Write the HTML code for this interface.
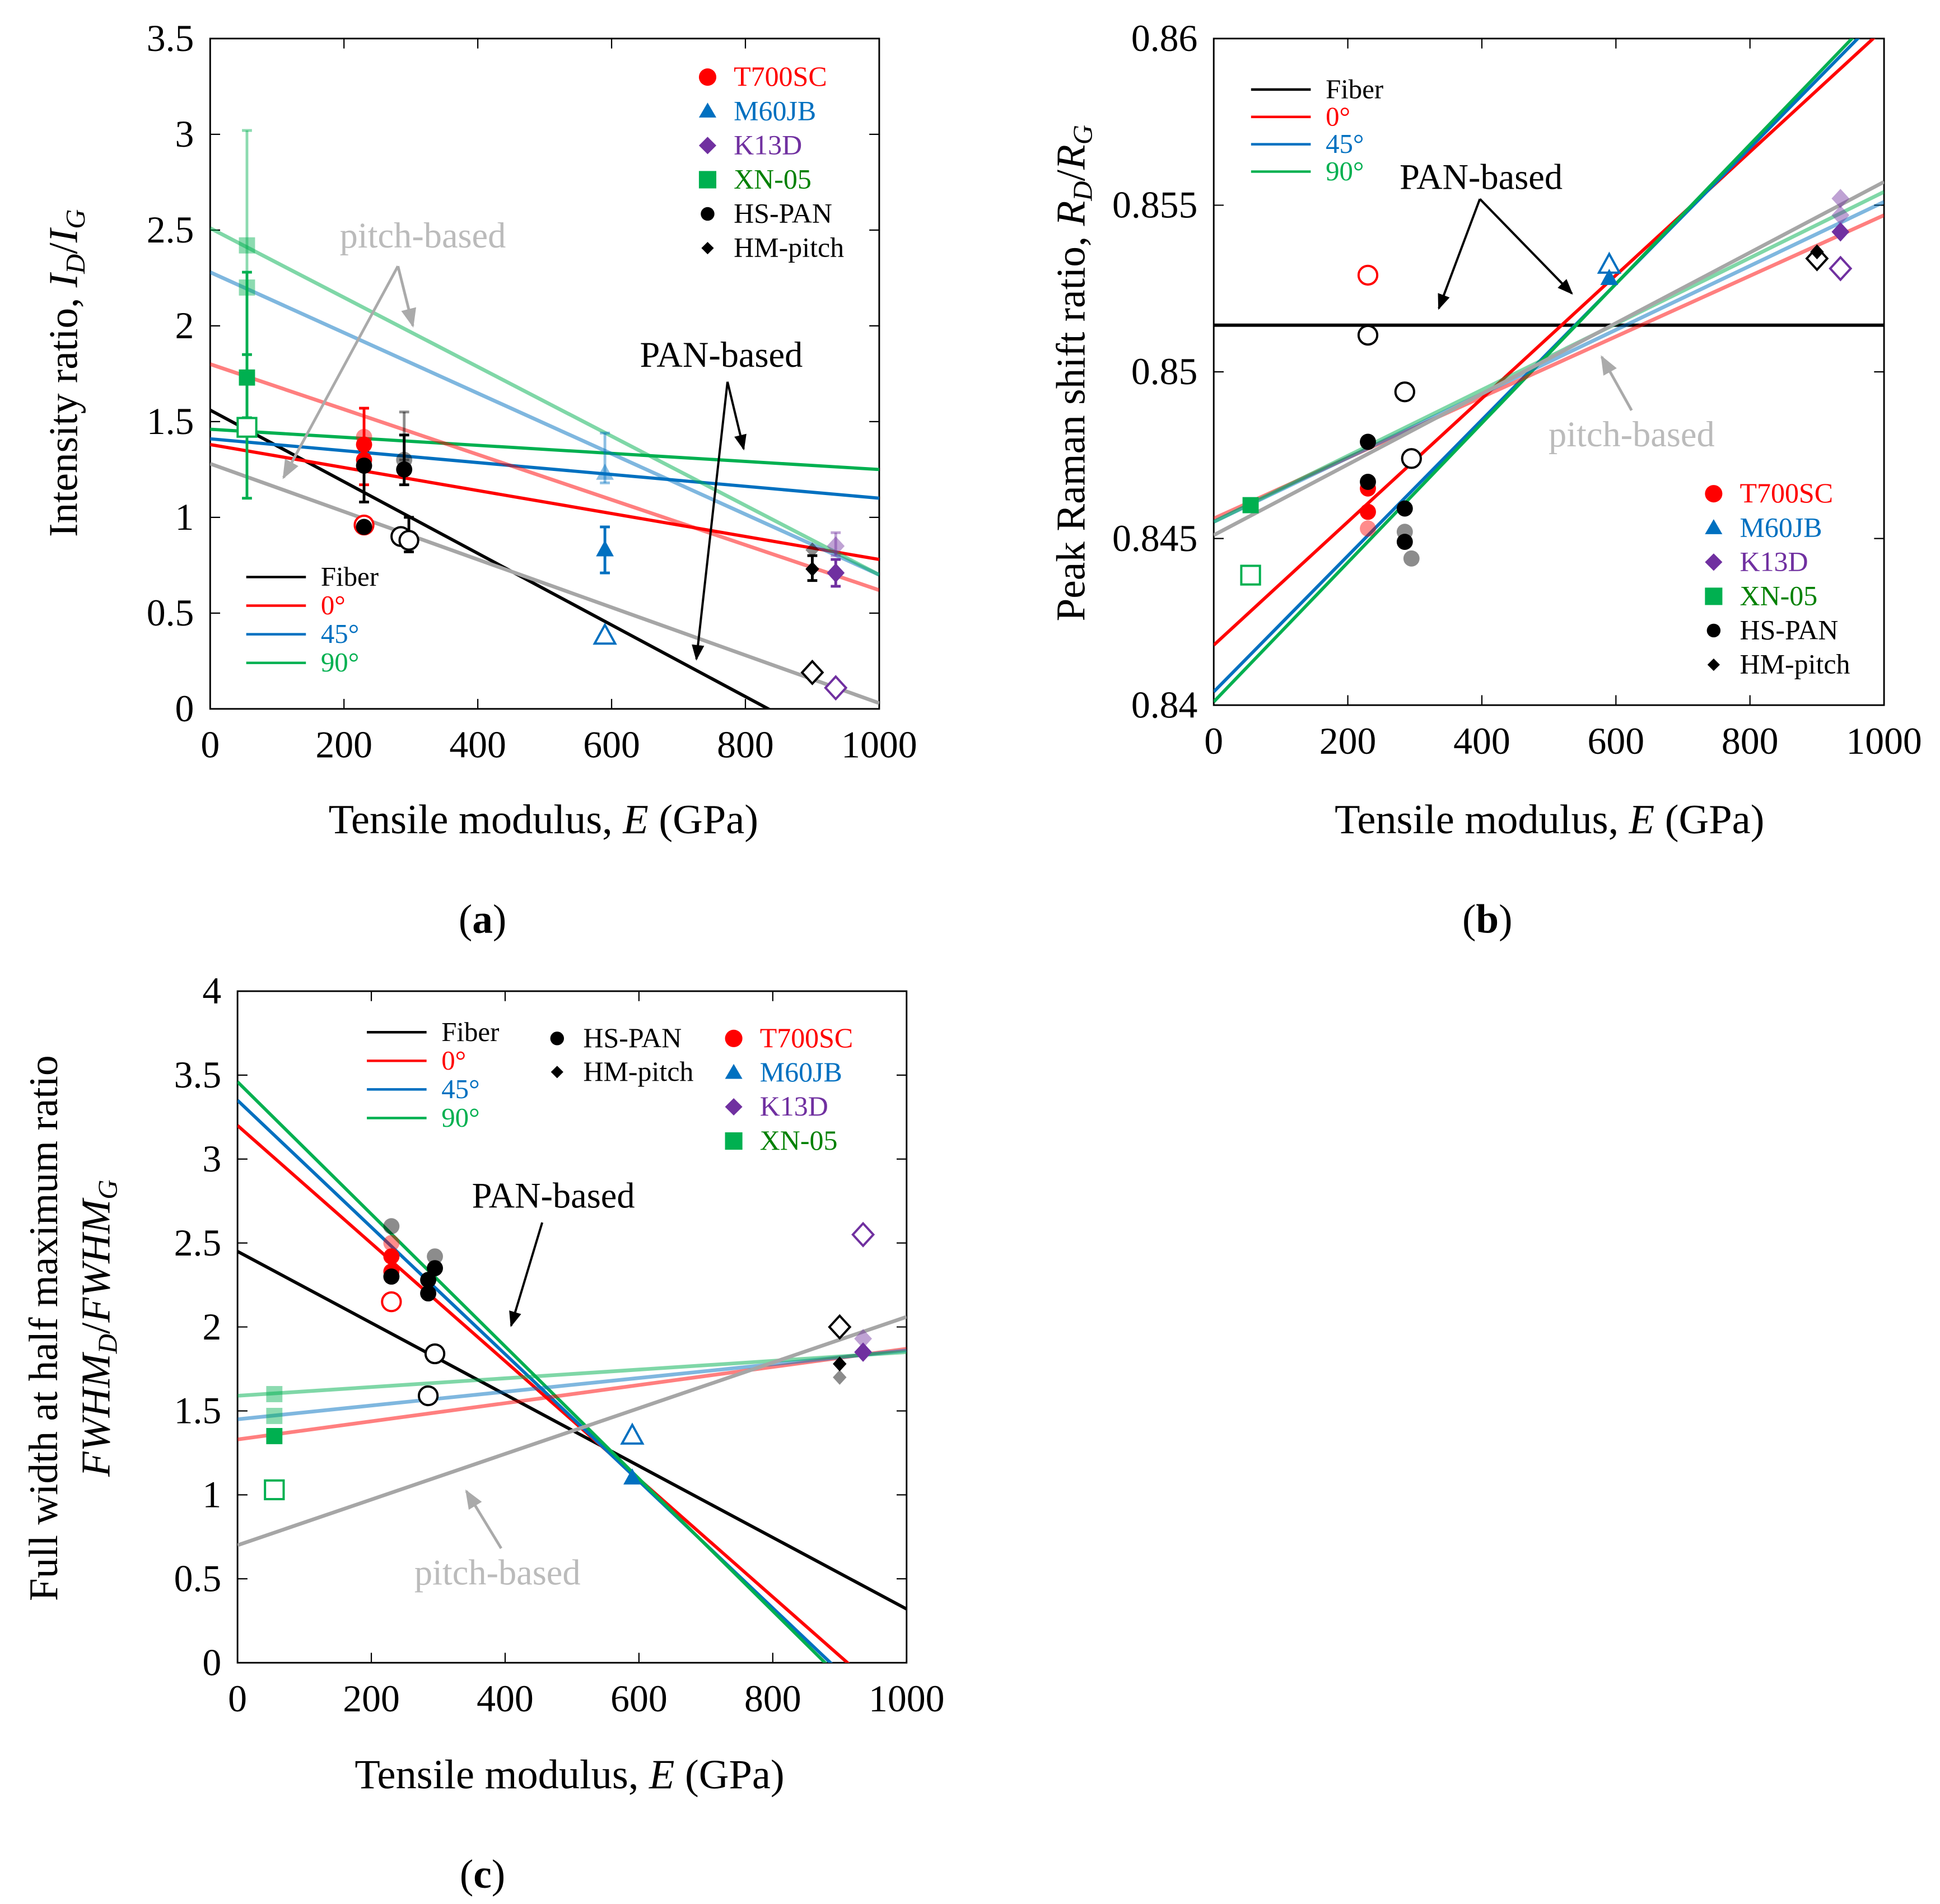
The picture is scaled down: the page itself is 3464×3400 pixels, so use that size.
<!DOCTYPE html>
<html><head><meta charset="utf-8">
<style>
html,body{margin:0;padding:0;background:#fff;}
svg{display:block;}
text{font-family:"Liberation Serif",serif;}
</style></head>
<body>
<svg id="fig" width="3464" height="3400" viewBox="0 0 1560 1531" preserveAspectRatio="none" xmlns="http://www.w3.org/2000/svg">
<defs>
<marker id="ah" viewBox="0 0 10 10" refX="9" refY="5" markerWidth="7" markerHeight="7" orient="auto-start-reverse"><path d="M0,1 L10,5 L0,9 z" fill="#000"/></marker>
<marker id="ahg" viewBox="0 0 10 10" refX="9" refY="5" markerWidth="7" markerHeight="7" orient="auto-start-reverse"><path d="M0,1 L10,5 L0,9 z" fill="#aaa"/></marker>
</defs>
</svg>
<script>
// ---------- data ----------
// Panel (a) intensity ratio
const aXTicks = [0,200,400,600,800,1000];
const aYTicks = [0,0.5,1,1.5,2,2.5,3,3.5];
const aYLabels = ["0","0.5","1","1.5","2","2.5","3","3.5"];
const aLineNames = ["fiber","0deg","45deg","90deg","pitch-0deg","pitch-45deg","pitch-90deg","pitch-fiber"];
const aLineStart = [1.56,1.38,1.41,1.46,1.80,2.28,2.51,1.28];
const aLineEnd   = [-0.31,0.78,1.10,1.25,0.62,0.70,0.70,0.03];
const aPtE   = [55,55,55,55,230,230,230,230,230,230,290,290,285,297,590,590,590,900,900,900,935,935,935];
const aPtVal = [1.47,1.73,2.20,2.42,0.96,1.30,1.38,1.42,1.27,0.95,1.25,1.30,0.90,0.88,0.38,0.83,1.23,0.19,0.73,0.83,0.11,0.71,0.85];
const aPtSer = ["XN","XN","XN","XN","T7","T7","T7","T7","HS","HS","HS","HS","HS","HS","M6","M6","M6","HM","HM","HM","K1","K1","K1"];
const aPtKind= ["o","f","l","l","o","f","f","l","f","f","f","l","o","o","o","f","l","o","f","l","o","f","l"];
// error bars (a)
const aErrE  = [55,55,55,230,230,290,290,297,590,590,900,935,935];
const aErrLo = [1.10,1.52,1.85,1.17,1.08,1.17,1.30,0.82,0.71,1.18,0.67,0.64,0.80];
const aErrHi = [1.85,2.28,3.02,1.57,1.35,1.43,1.55,1.00,0.95,1.44,0.80,0.78,0.92];
const aErrSer= ["XN","XN","XN","T7","HS","HS","HS","HS","M6","M6","HM","K1","K1"];
const aErrKind=["f","f","l","f","f","f","l","f","f","l","f","f","l"];

// Panel (b) peak shift ratio
const bXTicks = [0,200,400,600,800,1000];
const bYTicks = [0.84,0.845,0.85,0.855,0.86];
const bYLabels = ["0.84","0.845","0.85","0.855","0.86"];
const bLineNames = ["fiber","0deg","45deg","90deg","pitch-0deg","pitch-45deg","pitch-90deg","pitch-fiber"];
const bLineStart = [0.8514,0.8418,0.8404,0.8401,0.8456,0.8455,0.8455,0.8451];
const bLineEnd   = [0.8514,0.8603,0.8608,0.8610,0.8547,0.8551,0.8554,0.8557];
const bPtE   = [55,55,230,230,230,230,230,230,230,285,285,285,285,295,295,590,590,900,900,935,935,935,935];
const bPtVal = [0.8439,0.8460,0.8529,0.8465,0.8458,0.8453,0.8511,0.8479,0.8467,0.8494,0.8459,0.8449,0.8452,0.8474,0.8444,0.8532,0.8528,0.8534,0.8536,0.8531,0.8542,0.8547,0.8552];
const bPtSer = ["XN","XN","T7","T7","T7","T7","HS","HS","HS","HS","HS","HS","HS","HS","HS","M6","M6","HM","HM","K1","K1","K1","K1"];
const bPtKind= ["o","f","o","f","f","l","o","f","f","o","f","f","l","o","l","o","f","o","f","o","f","l","l"];

// Panel (c) FWHM ratio
const cXTicks = [0,200,400,600,800,1000];
const cYTicks = [0,0.5,1,1.5,2,2.5,3,3.5,4];
const cYLabels = ["0","0.5","1","1.5","2","2.5","3","3.5","4"];
const cLineNames = ["fiber","0deg","45deg","90deg","pitch-0deg","pitch-45deg","pitch-90deg","pitch-fiber"];
const cLineStart = [2.45,3.20,3.35,3.46,1.33,1.45,1.59,0.70];
const cLineEnd   = [0.32,-0.31,-0.43,-0.48,1.87,1.86,1.85,2.06];
const cPtE   = [55,55,55,55,230,230,230,230,230,230,285,285,285,295,295,295,590,590,900,900,900,935,935,935];
const cPtVal = [1.03,1.35,1.47,1.60,2.15,2.33,2.42,2.50,2.30,2.60,1.59,2.20,2.28,1.84,2.35,2.42,1.35,1.10,2.00,1.78,1.70,2.55,1.85,1.93];
const cPtSer = ["XN","XN","XN","XN","T7","T7","T7","T7","HS","HS","HS","HS","HS","HS","HS","HS","M6","M6","HM","HM","HM","K1","K1","K1"];
const cPtKind= ["o","f","l","l","o","f","f","l","f","l","o","f","f","o","f","l","o","f","o","f","l","o","f","l"];

// ---------- rendering ----------
const NS="http://www.w3.org/2000/svg";
const svg=document.getElementById('fig');
const lineColors={"fiber":"#000","0deg":"#ff0000","45deg":"#0070c0","90deg":"#00b050","pitch-0deg":"#ff0000","pitch-45deg":"#0070c0","pitch-90deg":"#00b050","pitch-fiber":"#a6a6a6"};
const serColor={XN:"#00b050",T7:"#ff0000",HS:"#000",M6:"#0070c0",HM:"#000",K1:"#7030a0"};
const serShape={XN:"sq",T7:"ci",HS:"ci",M6:"tr",HM:"di",K1:"di"};

function mk(tag,attrs,parent){const e=document.createElementNS(NS,tag);for(const k in attrs)e.setAttribute(k,attrs[k]);(parent||svg).appendChild(e);return e;}
function txt(x,y,s,size,parent,extra){const t=mk('text',Object.assign({x:x,y:y,'font-size':size},extra||{}),parent);t.innerHTML=s;return t;}

function panel(id,box,ymin,ymax,xT,yT,yL,lnNames,lnS,lnE,pE,pV,pS,pK,eE,eLo,eHi,eS,eK){
  const g=mk('g',{});
  
  
  const sx=v=>box.x0+(v-0)/(1000-0)*(box.x1-box.x0);
  const sy=v=>box.y1-(v-ymin)/(ymax-ymin)*(box.y1-box.y0);
  const cp=mk('clipPath',{id:'clip'+id},g);
  mk('rect',{x:box.x0,y:box.y0,width:box.x1-box.x0,height:box.y1-box.y0},cp);
  xT.forEach(v=>{
    const x=sx(v);
    const t1=mk('line',{x1:x,x2:x,y1:box.y1,y2:box.y1-8,stroke:'#000','stroke-width':1},g);
    
    
    mk('line',{x1:x,x2:x,y1:box.y0,y2:box.y0+8,stroke:'#000','stroke-width':1},g);
    const l=txt(x,box.y1+39,String(v),30.5,g,{'text-anchor':'middle'});
    
    
  });
  yT.forEach((v,i)=>{
    const y=sy(v);
    const t1=mk('line',{x1:box.x0,x2:box.x0+8,y1:y,y2:y,stroke:'#000','stroke-width':1},g);
    
    
    mk('line',{x1:box.x1,x2:box.x1-8,y1:y,y2:y,stroke:'#000','stroke-width':1},g);
    const l=txt(box.x0-13,y+10,yL[i],30.5,g,{'text-anchor':'end'});
    
    
  });
  const fr=mk('rect',{x:box.x0,y:box.y0,width:box.x1-box.x0,height:box.y1-box.y0,fill:'none',stroke:'#000','stroke-width':1.3},g);
  
  
  const lg=mk('g',{'clip-path':'url(#clip'+id+')'},g);
  lnNames.forEach((n,i)=>{
    const pitch=n.startsWith('pitch');
    const l=mk('line',{x1:sx(0),y1:sy(lnS[i]),x2:sx(1000),y2:sy(lnE[i]),stroke:lineColors[n],'stroke-width':pitch?3:2.6,'stroke-opacity':(pitch&&n!=='pitch-fiber')?0.5:1},lg);
    
    
  });
  if(eE){
    eE.forEach((e,i)=>{
      const c=serColor[eS[i]],op=eK[i]==='l'?0.45:1,x=sx(e);
      const eg=mk('g',{stroke:c,'stroke-opacity':op,'stroke-width':2.2},g);
      
      
      mk('line',{x1:x,x2:x,y1:sy(eLo[i]),y2:sy(eHi[i])},eg);
      mk('line',{x1:x-4,x2:x+4,y1:sy(eLo[i]),y2:sy(eLo[i])},eg);
      mk('line',{x1:x-4,x2:x+4,y1:sy(eHi[i]),y2:sy(eHi[i])},eg);
    });
  }
  pE.forEach((e,i)=>{
    const s=pS[i],k=pK[i],c=serColor[s],shape=serShape[s];
    const x=sx(e),y=sy(pV[i]);
    const filled=k!=='o';
    const op=k==='l'?0.45:1;
    const r=k==='o'?7.5:(shape==='di'&&s==='HM'?5:6.5);
    const a={fill:filled?c:'#fff',stroke:c,'stroke-width':filled?0:1.8,'fill-opacity':op};
    let el;
    if(shape==='ci') el=mk('circle',Object.assign({cx:x,cy:y,r:r},a),g);
    else if(shape==='sq') el=mk('rect',Object.assign({x:x-r,y:y-r,width:2*r,height:2*r},a),g);
    else if(shape==='tr') el=mk('polygon',Object.assign({points:`${x},${y-r*1.2} ${x-r*1.1},${y+r*0.8} ${x+r*1.1},${y+r*0.8}`},a),g);
    else el=mk('polygon',Object.assign({points:`${x},${y-r*1.2} ${x+r*1.1},${y} ${x},${y+r*1.2} ${x-r*1.1},${y}`},a),g);
    
    
  });
  return {g,sx,sy};
}

function lineLegend(g,x,y,dy){
  const items=[["Fiber","#000"],["0°","#ff0000"],["45°","#0070c0"],["90°","#00b050"]];
  items.forEach((it,i)=>{
    const yy=y+i*dy;
    const l=mk('line',{x1:x,x2:x+48,y1:yy,y2:yy,stroke:it[1],'stroke-width':2},g);
    
    
    const t=txt(x+60,yy+7,it[0],22,g,{fill:it[1]});
    
    
  });
}
function symLegend(g,x,y,dy,items){
  items.forEach((it,i)=>{
    const yy=y+i*dy, c=serColor[it[1]], sh=serShape[it[1]];
    let el;
    if(sh==='ci') el=mk('circle',{cx:x,cy:yy,r:it[1]==='HS'?5.5:7,fill:c},g);
    else if(sh==='sq') el=mk('rect',{x:x-7,y:yy-7,width:14,height:14,fill:c},g);
    else if(sh==='tr') el=mk('polygon',{points:`${x},${yy-7} ${x-7},${yy+5} ${x+7},${yy+5}`,fill:c},g);
    else {const r=it[1]==='HM'?5:7; el=mk('polygon',{points:`${x},${yy-r} ${x+r},${yy} ${x},${yy+r} ${x-r},${yy}`,fill:c},g);}
    
    
    const t=txt(x+21,yy+7,it[0],22.5,g,{fill:it[1]==='XN'?'#008000':(it[1]==='HS'||it[1]==='HM'?'#000':c)});
    
    
  });
}
function arrow(g,x1,y1,x2,y2,gray){
  const l=mk('line',{x1,y1,x2,y2,stroke:gray?'#aaa':'#000','stroke-width':gray?2.2:1.8,'marker-end':gray?'url(#ahg)':'url(#ah)'},g);
  
  
}
const symItems=[["T700SC","T7"],["M60JB","M6"],["K13D","K1"],["XN-05","XN"],["HS-PAN","HS"],["HM-pitch","HM"]];

// Panel a
const A=panel('a',{x0:169,x1:707,y0:31,y1:570},0,3.5,aXTicks,aYTicks,aYLabels,aLineNames,aLineStart,aLineEnd,aPtE,aPtVal,aPtSer,aPtKind,aErrE,aErrLo,aErrHi,aErrSer,aErrKind);
lineLegend(A.g,198,464,23);
symLegend(A.g,569,62,27.5,symItems);
let t;
t=txt(340,199,"pitch-based",29,A.g,{'text-anchor':'middle',fill:'#bbb'});
t=txt(580,295,"PAN-based",29,A.g,{'text-anchor':'middle'});
arrow(A.g,320,214,228,384,true);arrow(A.g,320,214,332,262,true);
arrow(A.g,585,307,560,530,false);arrow(A.g,585,307,598,361,false);
t=txt(62,300,"Intensity ratio, <tspan font-style='italic'>I</tspan><tspan font-style='italic' font-size='22' dy='6'>D</tspan><tspan dy='-6'>/</tspan><tspan font-style='italic'>I</tspan><tspan font-style='italic' font-size='22' dy='6'>G</tspan>",33,A.g,{'text-anchor':'middle',transform:'rotate(-90 62 300)'});
t=txt(437,670,"Tensile modulus, <tspan font-style='italic'>E</tspan> (GPa)",33.5,A.g,{'text-anchor':'middle'});
t=txt(388,750,"(<tspan font-weight='bold'>a</tspan>)",33,A.g,{'text-anchor':'middle'});

// Panel b
const B=panel('b',{x0:976,x1:1515,y0:31,y1:567},0.84,0.86,bXTicks,bYTicks,bYLabels,bLineNames,bLineStart,bLineEnd,bPtE,bPtVal,bPtSer,bPtKind);
lineLegend(B.g,1006,72,22);
symLegend(B.g,1378,397,27.5,symItems);
t=txt(1191,152,"PAN-based",29,B.g,{'text-anchor':'middle'});
t=txt(1312,359,"pitch-based",29,B.g,{'text-anchor':'middle',fill:'#bbb'});
arrow(B.g,1190,160,1157,248,false);arrow(B.g,1190,160,1264,236,false);
arrow(B.g,1312,330,1288,287,true);
t=txt(872,300,"Peak Raman shift ratio, <tspan font-style='italic'>R</tspan><tspan font-style='italic' font-size='22' dy='6'>D</tspan><tspan dy='-6'>/</tspan><tspan font-style='italic'>R</tspan><tspan font-style='italic' font-size='22' dy='6'>G</tspan>",33,B.g,{'text-anchor':'middle',transform:'rotate(-90 872 300)'});
t=txt(1246,670,"Tensile modulus, <tspan font-style='italic'>E</tspan> (GPa)",33.5,B.g,{'text-anchor':'middle'});
t=txt(1196,750,"(<tspan font-weight='bold'>b</tspan>)",33,B.g,{'text-anchor':'middle'});

// Panel c
const C=panel('c',{x0:191,x1:729,y0:797,y1:1337},0,4,cXTicks,cYTicks,cYLabels,cLineNames,cLineStart,cLineEnd,cPtE,cPtVal,cPtSer,cPtKind);
lineLegend(C.g,295,830,23);
symLegend(C.g,448,835,27,[["HS-PAN","HS"],["HM-pitch","HM"]]);
symLegend(C.g,590,835,27.5,[["T700SC","T7"],["M60JB","M6"],["K13D","K1"],["XN-05","XN"]]);
t=txt(445,971,"PAN-based",29,C.g,{'text-anchor':'middle'});
t=txt(400,1274,"pitch-based",29,C.g,{'text-anchor':'middle',fill:'#bbb'});
arrow(C.g,436,983,411,1066,false);
arrow(C.g,403,1245,375,1199,true);
t=txt(46,1068,"Full width at half maximum ratio",33,C.g,{'text-anchor':'middle',transform:'rotate(-90 46 1068)'});
t=txt(88,1068,"<tspan font-style='italic'>FWHM</tspan><tspan font-style='italic' font-size='22' dy='6'>D</tspan><tspan dy='-6'>/</tspan><tspan font-style='italic'>FWHM</tspan><tspan font-style='italic' font-size='22' dy='6'>G</tspan>",33,C.g,{'text-anchor':'middle',transform:'rotate(-90 88 1068)'});
t=txt(458,1438,"Tensile modulus, <tspan font-style='italic'>E</tspan> (GPa)",33.5,C.g,{'text-anchor':'middle'});
t=txt(388,1518,"(<tspan font-weight='bold'>c</tspan>)",33,C.g,{'text-anchor':'middle'});
</script>
</body></html>
